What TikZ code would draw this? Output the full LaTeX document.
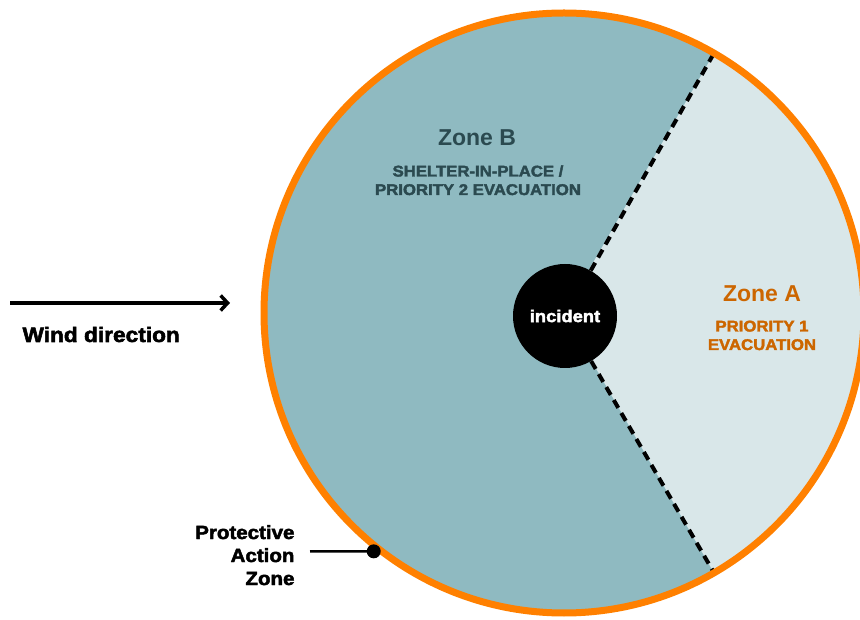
\documentclass[tikz,border=0pt]{standalone}
\usepackage{fontspec}
\setmainfont{Liberation Sans}
\newfontfamily\heavyfont{Liberation Sans Bold}[FakeBold=2.5,FakeStretch=1.08]
\usetikzlibrary{arrows.meta}
\definecolor{zonebfill}{HTML}{8FBAC1}
\definecolor{zoneafill}{HTML}{D9E7E9}
\definecolor{pazorange}{HTML}{FF8000}
\definecolor{zonebtext}{HTML}{2B4A50}
\definecolor{zoneatext}{HTML}{CC6600}

\begin{document}
\begin{tikzpicture}[x=1pt,y=1pt,
  zonehead/.style={font=\fontsize{23}{23}\selectfont\bfseries, anchor=base},
  zonenote/.style={font=\heavyfont\fontsize{15.5}{18.5}\selectfont, align=center, anchor=base},
  zoneline/.style={line width=4pt, dash pattern=on 9pt off 6pt},
  incidentdisc/.style={circle, fill=black, minimum size=104pt, inner sep=0pt, text=white,
    font=\heavyfont\fontsize{17}{17}\selectfont}]
  \def\cx{564}
  \def\cy{306}
  \def\radius{300}
  \useasboundingbox (0,0) rectangle (860,619);
  \clip (0,0) rectangle (860,619);
  \coordinate (centre) at (\cx,\cy);

  \fill[zonebfill] (centre) circle (\radius);
  \fill[zoneafill] (centre) -- ++(60:\radius) arc (60:-60:\radius) -- cycle;

  \node[incidentdisc] (incident) at (565,303) {incident};
  \foreach \ang/\name in {60/edgetop,-60/edgebottom} { %for each border of zone A
    \coordinate (\name) at ([shift={(\ang:\radius)}]centre);
    \draw[zoneline] (incident) -- (\name);
  }
  \draw[pazorange, line width=7pt] (centre) circle (\radius);

  \node[zonehead, text=zonebtext] (zoneB) at (477,473) {Zone B};
  \node[zonenote, text=zonebtext] (zoneBnote) at (478,424) {SHELTER-IN-PLACE /\\PRIORITY 2 EVACUATION};
  \node[zonehead, text=zoneatext] (zoneA) at (762,317) {Zone A};
  \node[zonenote, text=zoneatext] (zoneAnote) at (762,269) {PRIORITY 1\\EVACUATION};

  % wind
  \coordinate (windtail) at (10,316);
  \coordinate (windhead) at (230,316);
  \draw[line width=4pt, -{Straight Barb[length=7pt,width=15pt,line width=3.5pt]}] (windtail) -- (windhead);
  \node[anchor=base west, font=\heavyfont\fontsize{21}{21}\selectfont] (windlabel) at (19,277) {Wind direction};

  % protective action zone
  \node[anchor=base east, align=right, font=\heavyfont\fontsize{19}{23}\selectfont] (paz) at (298,34) {Protective\\Action\\Zone};
  \coordinate (pazstart) at (310,67.5);
  \coordinate (pazdot) at ([shift={(231.4:305)}]centre);
  \draw[line width=2.5pt] (pazstart) -- (pazdot);
  \fill (pazdot) circle (7);
\end{tikzpicture}
\end{document}
